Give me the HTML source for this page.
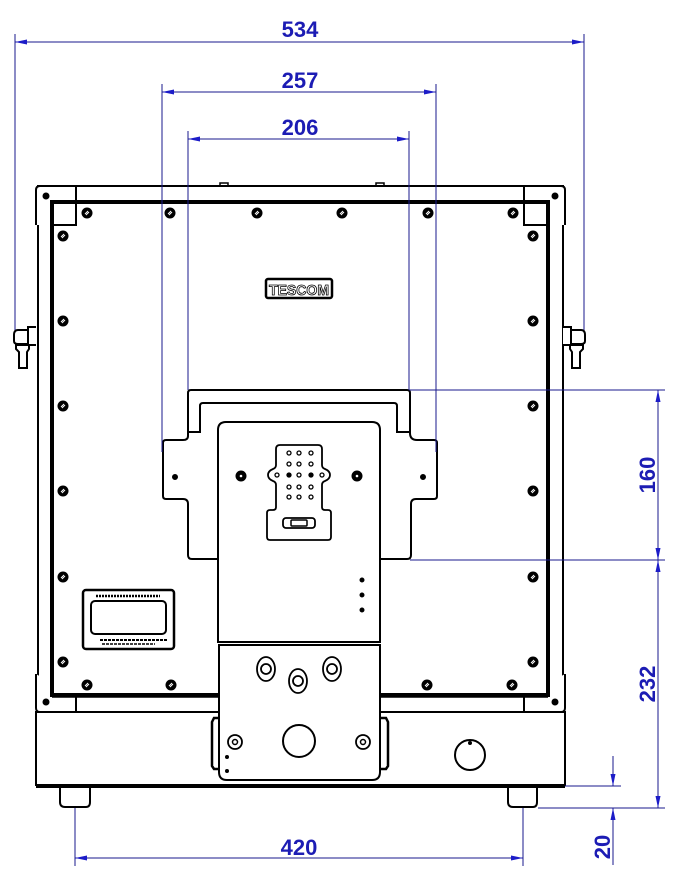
<!DOCTYPE html>
<html><head><meta charset="utf-8"><style>
html,body{margin:0;padding:0;background:#fff;}
svg{display:block;}
.t{font-family:"Liberation Sans",sans-serif;font-weight:bold;font-size:22px;fill:#1c1cb4;}
</style></head><body>
<svg width="688" height="878" viewBox="0 0 688 878" xmlns="http://www.w3.org/2000/svg">
<defs>
<g id="scr"><circle r="5.5" fill="#000"/><path d="M-2,1L1,-2M-1,2L2,-1" stroke="#fff" stroke-width="1"/></g>
<marker id="ar" viewBox="0 0 12 6" refX="12" refY="3" markerWidth="12" markerHeight="6" orient="auto-start-reverse" markerUnits="userSpaceOnUse"><path d="M0,0.5L12,3L0,5.5z" fill="#1c1cc8"/></marker>
</defs>
<g fill="none" stroke="#000">
<!-- outer frame -->
<rect x="38" y="186" width="525" height="526" stroke-width="2"/>
<!-- corners -->
<path d="M36,225V190q0-4 4-4H76V225H52" stroke-width="2" fill="#fff"/>
<path d="M565,225V190q0-4-4-4H524V225H548" stroke-width="2" fill="#fff"/>
<path d="M36,674V708q0 4 4 4H76V697" stroke-width="2" fill="#fff"/>
<path d="M565,674V708q0 4-4 4H524V697" stroke-width="2" fill="#fff"/>
<rect x="52" y="202" width="496" height="493" stroke-width="4"/>
<line x1="52" y1="697" x2="548" y2="697" stroke-width="1.5"/>
<circle cx="46" cy="196" r="3" fill="#000"/><circle cx="555" cy="196" r="3" fill="#000"/>
<circle cx="46" cy="702" r="3" fill="#000"/><circle cx="555" cy="702" r="3" fill="#000"/>
<!-- base -->
<rect x="36" y="712" width="529" height="73" stroke-width="2"/>
<line x1="36" y1="787" x2="565" y2="787" stroke-width="2"/>
<path d="M60,788V802q0 5 5 5H86q4 0 4-5V788" stroke-width="2"/>
<path d="M508,788V802q0 5 5 5H533q4 0 4-5V788" stroke-width="2"/>
<circle cx="470" cy="755" r="15" stroke-width="2"/><circle cx="470" cy="743" r="1.5" fill="#000"/>
<!-- latches -->
<path d="M36,327H28V345H36M28,330H18q-4 0-4 5v6q0 3 4 3H28M16,345v4l3,3v16h8v-16l2-3v-4z" stroke-width="2" fill="#fff"/>
<path d="M563,327H571V345H563M571,330H581q4 0 4 5v6q0 3-4 3H571M583,345v4l-3,3v16h-8v-16l-2-3v-4z" stroke-width="2" fill="#fff"/>
<!-- top bumps -->
<path d="M220,186v-3h8v3M376,186v-3h8v3" stroke-width="1.5"/>
<!-- TESCOM -->
<rect x="266" y="279" width="66" height="19" rx="2" stroke-width="2.5"/>
<!-- handle plate -->
<path d="M218,559H192q-4 0-4-4V504q0-5-5-5H166q-3 0-3-3V443q0-3 3-3H183q5 0 5-4V393q0-3 3-3H407q3 0 3 3V433q0 7 7 7H434q3 0 3 3V496q0 3-3 3H416q-5 0-5 5V555q0 4-4 4H380" stroke-width="2" fill="#fff"/>
<path d="M188,432H200V406q0-3 3-3H394q3 0 3 3V432H410" stroke-width="2"/>
<circle cx="175" cy="477" r="2.5" fill="#000"/><circle cx="423" cy="477" r="2.5" fill="#000"/>
<!-- center panel -->
<path d="M218,642V430q0-8 8-8H372q8 0 8,8V642z" stroke-width="2" fill="#fff"/>
<circle cx="241" cy="476" r="5" fill="#000"/><circle cx="241" cy="476" r="1.3" fill="#fff" stroke="none"/>
<circle cx="357" cy="476" r="5" fill="#000"/><circle cx="357" cy="476" r="1.3" fill="#fff" stroke="none"/>
<path d="M282,445H318q4 0 4,4V465q0 3 3 4q5 2 5 6q0 4-5 6q-3 1-3 4V507q0 3 3 3H328q3 0 3 3V537q0 3-3 3H270q-3 0-3-3V513q0-3 3-3H273q3 0 3-3V485q0-3-3-4q-5-2-5-6q0-4 5-6q3-1 3-4V449q0-4 4-4z" stroke-width="1.8" fill="#fff"/>
<rect x="283" y="518" width="32" height="10" rx="3" stroke-width="1.8"/>
<rect x="291" y="520" width="16" height="6" rx="1" stroke-width="1.5"/>
<circle cx="362" cy="580" r="2" fill="#000"/><circle cx="362" cy="595" r="2" fill="#000"/><circle cx="362" cy="610" r="2" fill="#000"/>
<!-- lower panel -->
<path d="M219,645H380V772q0 8-8 8H227q-8 0-8-8z" stroke-width="2" fill="#fff"/>
<path d="M219,718H214l-2,4V766l2,3H219M380,718H386l2,4V766l-2,3H380" stroke-width="2.5"/>
<ellipse cx="266" cy="669" rx="9" ry="12" stroke-width="1.8"/><circle cx="266" cy="669" r="5" stroke-width="1.8"/>
<ellipse cx="298" cy="681" rx="9" ry="12" stroke-width="1.8"/><circle cx="298" cy="681" r="5" stroke-width="1.8"/>
<ellipse cx="332" cy="669" rx="9" ry="12" stroke-width="1.8"/><circle cx="332" cy="669" r="5" stroke-width="1.8"/>
<circle cx="299" cy="741" r="16" stroke-width="2"/>
<circle cx="235" cy="742" r="7" stroke-width="1.8"/><circle cx="235" cy="742" r="2.5" stroke-width="1.5"/>
<circle cx="363" cy="742" r="7" stroke-width="1.8"/><circle cx="363" cy="742" r="2.5" stroke-width="1.5"/>
<circle cx="227" cy="757" r="1.5" fill="#000"/><circle cx="227" cy="771" r="1.5" fill="#000"/>
<!-- label -->
<rect x="83" y="590" width="91" height="59" rx="3" stroke-width="2.5"/>
<rect x="91" y="601" width="75" height="33" rx="4" stroke-width="2"/>
<line x1="96" y1="596" x2="160" y2="596" stroke-width="2.5" stroke-dasharray="2 1"/>
<line x1="100" y1="640" x2="168" y2="640" stroke-width="2" stroke-dasharray="3 1"/>
<line x1="102" y1="644" x2="155" y2="644" stroke-width="1.5" stroke-dasharray="3 1"/>
</g>
<text x="299" y="295" text-anchor="middle" font-family="Liberation Sans,sans-serif" font-weight="bold" font-size="15" fill="#fff" stroke="#000" stroke-width="0.8" textLength="60" lengthAdjust="spacingAndGlyphs">TESCOM</text>
<!-- connector pins -->
<g fill="none" stroke="#000" stroke-width="1.3">
<circle cx="289" cy="453" r="2"/><circle cx="299" cy="453" r="2"/><circle cx="311" cy="453" r="2"/>
<circle cx="289" cy="464" r="2"/><circle cx="299" cy="464" r="2"/><circle cx="311" cy="464" r="2"/>
<circle cx="277" cy="475" r="2"/><circle cx="289" cy="475" r="2" fill="#000"/><circle cx="299" cy="475" r="2"/><circle cx="311" cy="475" r="2" fill="#000"/><circle cx="322" cy="475" r="2"/>
<circle cx="289" cy="487" r="2"/><circle cx="299" cy="487" r="2"/><circle cx="311" cy="487" r="2"/>
<circle cx="289" cy="497" r="2"/><circle cx="299" cy="497" r="2"/><circle cx="311" cy="497" r="2"/>
</g>
<!-- screws -->
<g>
<use href="#scr" x="87" y="213"/><use href="#scr" x="170" y="213"/><use href="#scr" x="257" y="213"/><use href="#scr" x="342" y="213"/><use href="#scr" x="428" y="213"/><use href="#scr" x="513" y="213"/>
<use href="#scr" x="63" y="236"/><use href="#scr" x="63" y="321"/><use href="#scr" x="63" y="406"/><use href="#scr" x="63" y="491"/><use href="#scr" x="63" y="577"/><use href="#scr" x="63" y="662"/>
<use href="#scr" x="533" y="236"/><use href="#scr" x="533" y="321"/><use href="#scr" x="533" y="406"/><use href="#scr" x="533" y="491"/><use href="#scr" x="533" y="577"/><use href="#scr" x="533" y="662"/>
<use href="#scr" x="87" y="685"/><use href="#scr" x="171" y="685"/><use href="#scr" x="427" y="685"/><use href="#scr" x="512" y="685"/>
</g>
<!-- dimensions -->
<g stroke="#1a1a8c" stroke-width="1" fill="none">
<line x1="15" y1="34" x2="15" y2="330"/><line x1="584" y1="34" x2="584" y2="330"/>
<line x1="15" y1="42" x2="584" y2="42" marker-start="url(#ar)" marker-end="url(#ar)"/>
<line x1="162" y1="84" x2="162" y2="452"/><line x1="436" y1="84" x2="436" y2="452"/>
<line x1="162" y1="92" x2="436" y2="92" marker-start="url(#ar)" marker-end="url(#ar)"/>
<line x1="188" y1="131" x2="188" y2="390"/><line x1="409" y1="131" x2="409" y2="390"/>
<line x1="188" y1="139" x2="409" y2="139" marker-start="url(#ar)" marker-end="url(#ar)"/>
<line x1="409" y1="390" x2="665" y2="390"/><line x1="410" y1="560" x2="665" y2="560"/><line x1="538" y1="808" x2="665" y2="808"/>
<line x1="658" y1="390" x2="658" y2="560" marker-start="url(#ar)" marker-end="url(#ar)"/>
<line x1="658" y1="560" x2="658" y2="808" marker-start="url(#ar)" marker-end="url(#ar)"/>
<line x1="565" y1="786" x2="621" y2="786"/>
<line x1="613" y1="756" x2="613" y2="786" marker-end="url(#ar)"/>
<line x1="613" y1="865" x2="613" y2="808" marker-end="url(#ar)"/>
<line x1="75" y1="808" x2="75" y2="866"/><line x1="523" y1="808" x2="523" y2="866"/>
<line x1="75" y1="858" x2="523" y2="858" marker-start="url(#ar)" marker-end="url(#ar)"/>
</g>
<text class="t" x="300" y="37" text-anchor="middle">534</text>
<text class="t" x="300" y="88" text-anchor="middle">257</text>
<text class="t" x="300" y="135" text-anchor="middle">206</text>
<text class="t" x="299" y="855" text-anchor="middle">420</text>
<text class="t" transform="translate(655,475) rotate(-90)" text-anchor="middle">160</text>
<text class="t" transform="translate(655,684) rotate(-90)" text-anchor="middle">232</text>
<text class="t" transform="translate(610,847) rotate(-90)" text-anchor="middle">20</text>
</svg>
</body></html>
